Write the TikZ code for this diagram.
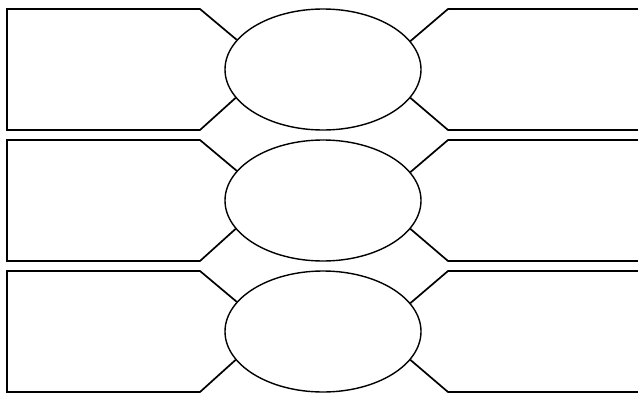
\documentclass[tikz,border=0pt]{standalone}
\usetikzlibrary{shapes.geometric}
\tikzset{oval/.style={draw,ellipse,inner sep=0pt,line width=1.4pt,minimum width=196pt,minimum height=121pt}}
\begin{document}
\begin{tikzpicture}[x=1pt,y=-1pt,line width=1.7pt]
  \useasboundingbox (0,0) rectangle (638,394);
  % three rows: box -- oval -- box
  \foreach \t [count=\r] in {9,140,271} {
    \node[oval] (oval\r) at (323,\t+60.5) {};
    \draw (oval\r.161.4) -- (200,\t) -- (7,\t) -- (7,\t+121) -- (200,\t+121) -- (oval\r.198.6);
    \draw (oval\r.18.6) -- (448,\t) -- (640,\t);
    \draw (oval\r.-18.6) -- (448,\t+121) -- (640,\t+121);
  }
\end{tikzpicture}
\end{document}
